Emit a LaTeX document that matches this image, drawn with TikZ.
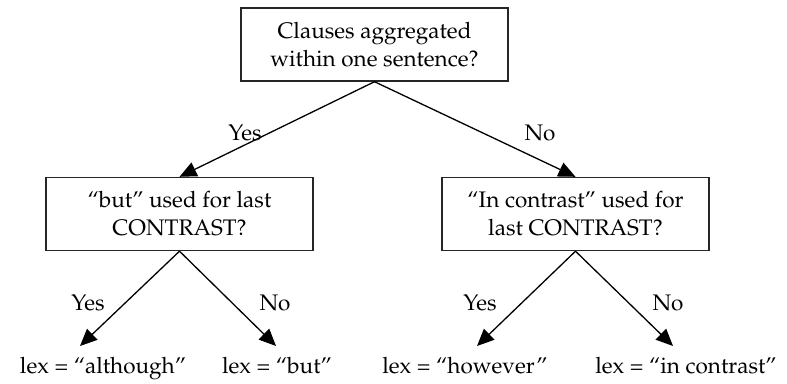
\documentclass[tikz,border=0pt]{standalone}
\usepackage[T1]{fontenc}
\usepackage{mathpazo}
\usetikzlibrary{arrows.meta}
\begin{document}
\begin{tikzpicture}[x=1pt,y=-1pt,
  question/.style={draw=black!85,line width=1.4pt,minimum width=267pt,minimum height=73pt,
    inner sep=0pt,align=center,font=\fontsize{22.5}{28}\selectfont},
  leaf/.style={anchor=base,inner sep=0pt,font=\fontsize{22.5}{27}\selectfont},
  lab/.style={inner sep=0pt,font=\fontsize{22.5}{27}\selectfont},
  branch/.style={line width=1.3pt,-{Triangle[length=17pt,width=15pt]}}]
\useasboundingbox (0,0) rectangle (787,383);

% decision boxes
\node[question] (root) at (374.5,44.5) {Clauses aggregated\\within one sentence?};
\node[question] (but)  at (179.5,214) {``but'' used for last\\CONTRAST?};
\node[question] (inc)  at (575.5,214) {``In contrast'' used for\\last CONTRAST?};

% outcomes
\node[leaf] (although) at (103,373) {lex = ``although''};
\node[leaf] (lexbut)   at (277,373) {lex = ``but''};
\node[leaf] (however)  at (465,373) {lex = ``however''};
\node[leaf] (incon)    at (686,373) {lex = ``in contrast''};

% arrow tips above the outcomes
\coordinate (tA) at (80,346);
\coordinate (tB) at (276,346);
\coordinate (tC) at (477,346);
\coordinate (tD) at (673,346);

% branches
\draw[branch] (root.south) -- (but.north);
\draw[branch] (root.south) -- (inc.north);
\draw[branch] (but.south) -- (tA);
\draw[branch] (but.south) -- (tB);
\draw[branch] (inc.south) -- (tC);
\draw[branch] (inc.south) -- (tD);

% branch labels
\node[lab] (y0) at (245,133) {Yes};
\node[lab] (n0) at (540,133) {No};
\node[lab] (y1) at (88,303) {Yes};
\node[lab] (n1) at (275,303) {No};
\node[lab] (y2) at (480,303) {Yes};
\node[lab] (n2) at (668,303) {No};
\end{tikzpicture}
\end{document}
